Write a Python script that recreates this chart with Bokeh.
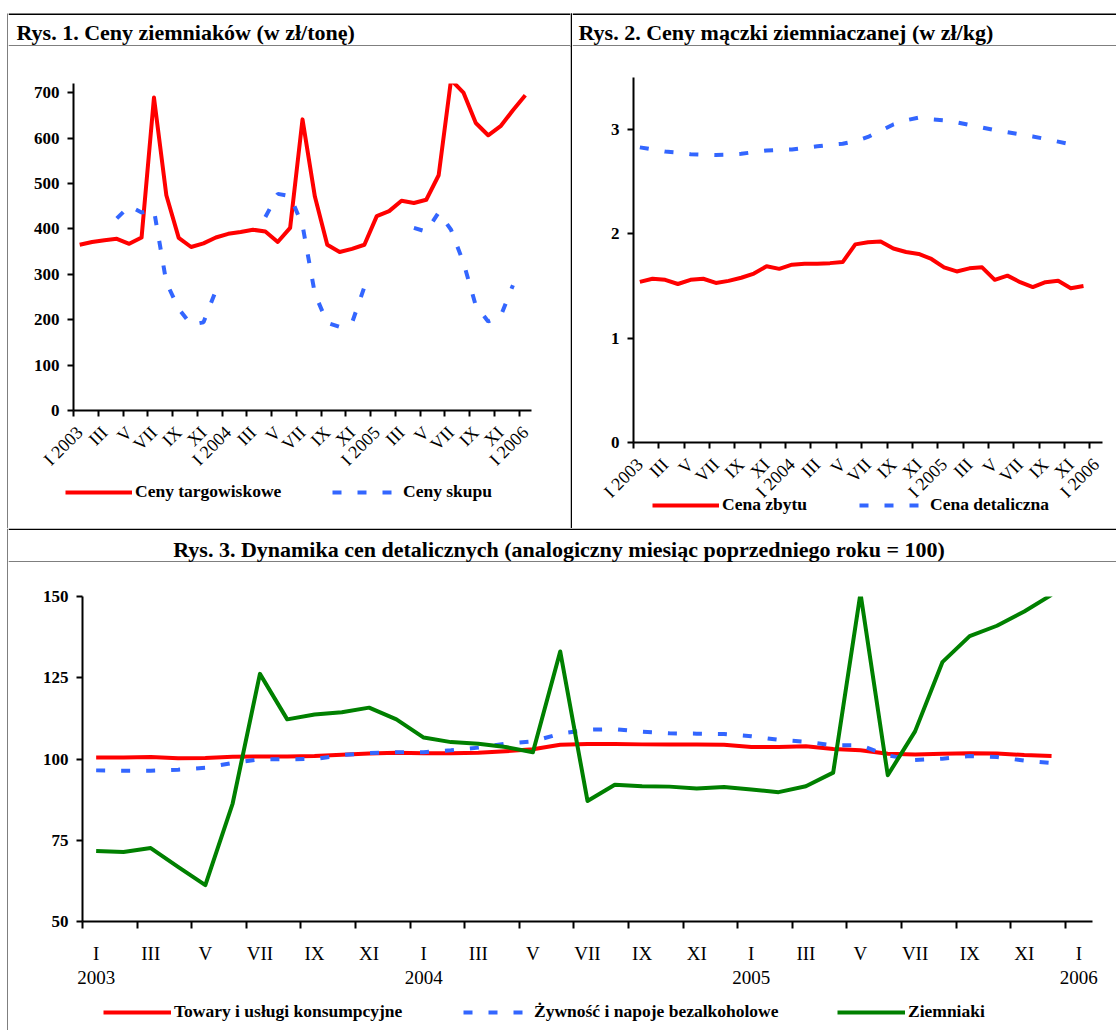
import math
from bokeh.plotting import figure
from bokeh.models import Range1d, FixedTicker, Legend, LegendItem
from bokeh.layouts import column, row
from bokeh.embed import file_html
from bokeh.resources import INLINE
from bokeh.core.properties import value

NaN = float("nan")

# ---------------- data ----------------
month_ticks_rot = ["I 2003", "III", "V", "VII", "IX", "XI",
                   "I 2004", "III", "V", "VII", "IX", "XI",
                   "I 2005", "III", "V", "VII", "IX", "XI", "I 2006"]
month_ticks_3 = ["I\n2003", "III", "V", "VII", "IX", "XI",
                 "I\n2004", "III", "V", "VII", "IX", "XI",
                 "I\n2005", "III", "V", "VII", "IX", "XI", "I\n2006"]
n_categories = 37  # I 2003 ... I 2006

# Rys. 1 (zl/tone)
ceny_targowiskowe = [365, 371, 375, 378, 367, 381, 689, 474, 380, 360, 368, 381,
                     389, 393, 398, 394, 371, 402, 641, 471, 365, 349, 356, 365,
                     428, 439, 462, 457, 464, 518, 728, 700, 633, 606, 626, 661, 694]
ceny_skupu = [NaN, NaN, NaN, 423, 450, 436, 441, 282, 224, 189, 194, 264,
              NaN, NaN, NaN, 426, 477, 472, 408, 257, 193, 184, 193, 272,
              NaN, NaN, NaN, 402, 394, 436, 398, 326, 231, 196, 207, 276, NaN]
y_ticks_1 = [0, 100, 200, 300, 400, 500, 600, 700]

# Rys. 2 (zl/kg)
cena_zbytu = [1.54, 1.57, 1.56, 1.52, 1.56, 1.57, 1.53, 1.55, 1.58, 1.62, 1.69, 1.665,
              1.705, 1.715, 1.715, 1.72, 1.73, 1.90, 1.92, 1.927, 1.86, 1.827, 1.808, 1.76,
              1.68, 1.64, 1.67, 1.68, 1.56, 1.60, 1.537, 1.49, 1.537, 1.55, 1.48, 1.50]
cena_detaliczna = [2.83, 2.81, 2.79, 2.78, 2.765, 2.76, 2.757, 2.76, 2.768, 2.785, 2.80, 2.805,
                   2.81, 2.825, 2.84, 2.855, 2.865, 2.89, 2.93, 2.99, 3.05, 3.09, 3.115, 3.10,
                   3.09, 3.07, 3.045, 3.02, 2.995, 2.975, 2.955, 2.935, 2.91, 2.885, 2.86]
y_ticks_2 = [0, 1, 2, 3]

# Rys. 3 (analogiczny miesiac poprzedniego roku = 100)
towary = [100.5, 100.5, 100.6, 100.2, 100.3, 100.7, 100.8, 100.8, 100.9, 101.3, 101.7, 101.9,
          101.8, 101.8, 101.9, 102.4, 103.0, 104.4, 104.6, 104.6, 104.5, 104.5, 104.5, 104.4,
          103.7, 103.7, 103.9, 103.1, 102.7, 101.6, 101.4, 101.6, 101.8, 101.7, 101.2, 100.9]
zywnosc = [96.5, 96.4, 96.4, 96.7, 97.3, 98.8, 99.9, 99.9, 100.0, 101.2, 101.8, 102.1,
           102.1, 102.7, 103.5, 104.7, 105.4, 107.8, 109.0, 109.2, 108.4, 107.9, 107.8, 107.7,
           107.0, 105.9, 105.3, 104.2, 104.2, 101.1, 99.7, 100.1, 100.9, 100.6, 99.5, 98.8]
ziemniaki = [71.7, 71.4, 72.6, 66.8, 61.2, 86.3, 126.2, 112.2, 113.7, 114.4, 115.8, 112.2,
             106.6, 105.2, 104.7, 103.7, 102.1, 133.1, 87.1, 92.1, 91.6, 91.5, 90.9, 91.4,
             90.6, 89.8, 91.6, 95.8, 151.0, 95.0, 108.5, 129.8, 137.8, 141.0, 145.4, 150.5]
y_ticks_3 = [50, 75, 100, 125, 150]

titles = ["Rys. 1. Ceny ziemniaków (w zł/tonę)",
          "Rys. 2. Ceny mączki ziemniaczanej (w zł/kg)",
          "Rys. 3. Dynamika cen detalicznych (analogiczny miesiąc poprzedniego roku = 100)"]
legend_1 = ["Ceny targowiskowe", "Ceny skupu"]
legend_2 = ["Cena zbytu", "Cena detaliczna"]
legend_3 = ["Towary i usługi konsumpcyjne", "Żywność i napoje bezalkoholowe", "Ziemniaki"]

RED = "#ff0000"
BLUE = "#3366ff"
GREEN = "#008000"
FONT = "Liberation Serif"
DASH = "9 16"
RULE = 1.5  # thickness of the frame rules in px


def blank(w, h, y_down=True):
    f = figure(width=w, height=h, toolbar_location=None, output_backend="svg",
               min_border=0, x_axis_type=None, y_axis_type=None,
               x_range=Range1d(0, w), y_range=Range1d(h, 0) if y_down else Range1d(0, h),
               outline_line_color=None, background_fill_alpha=0, border_fill_alpha=0,
               frame_align=False)
    return f


def deco(w, h, rects=(), text=None, tx=0, ty=0, align="left"):
    """Strip in pixel coordinates (y downward) holding black rules and a title."""
    f = blank(w, h)
    if rects:
        f.quad(left=[r[0] for r in rects], right=[r[1] for r in rects],
               top=[r[2] for r in rects], bottom=[r[3] for r in rects],
               fill_color="black", line_color=None)
    if text is not None:
        f.text(x=[tx], y=[ty], text=[text], text_font=value(FONT),
               text_font_style=value("bold"), text_font_size=value("22px"),
               text_align=value(align), text_baseline=value("middle"),
               text_color="black")
    return f


def chart(w, h, left, right, top, bottom, yr, yticks, labels, rotated):
    p = figure(width=w, height=h, toolbar_location=None, output_backend="svg",
               x_range=Range1d(-0.5, n_categories - 0.5), y_range=Range1d(*yr),
               min_border_left=left, min_border_right=right,
               min_border_top=top, min_border_bottom=bottom,
               outline_line_color=None, border_fill_alpha=0, background_fill_alpha=0,
               frame_align=False)
    p.grid.visible = False
    label_pos = list(range(0, n_categories, 2))
    xa = p.xaxis[0]
    xa.ticker = FixedTicker(ticks=label_pos, minor_ticks=[k - 0.5 for k in label_pos])
    xa.major_label_overrides = {k: lab for k, lab in zip(label_pos, labels)}
    xa.major_tick_out = 0
    xa.major_tick_in = 0
    xa.minor_tick_in = 0
    xa.minor_tick_out = 6 if rotated else 7
    xa.minor_tick_line_color = "black"
    xa.minor_tick_line_width = 2
    xa.axis_line_width = 2
    xa.axis_line_color = "black"
    xa.major_label_text_font = FONT
    xa.major_label_text_color = "black"
    if rotated:
        xa.major_label_orientation = math.pi / 4
        xa.major_label_text_font_size = "18px"
        xa.major_label_standoff = 13
    else:
        xa.major_label_text_font_size = "19px"
        xa.major_label_standoff = 14
        xa.major_label_text_line_height = 1.15
    ya = p.yaxis[0]
    ya.ticker = FixedTicker(ticks=yticks, minor_ticks=[])
    ya.axis_line_width = 2
    ya.axis_line_color = "black"
    ya.major_tick_out = 6
    ya.major_tick_in = 0
    ya.major_tick_line_width = 2
    ya.minor_tick_out = 0
    ya.minor_tick_in = 0
    ya.major_label_text_font = FONT
    ya.major_label_text_font_style = "bold"
    ya.major_label_text_font_size = "17px"
    ya.major_label_text_color = "black"
    ya.major_label_standoff = 8
    return p


def legend_strip(w, h, entries, margin=None):
    """entries: (label, color, dash, glyph_width, x_left, y_bottom) in strip pixels."""
    f = blank(w, h, y_down=False)
    if margin is not None:
        f.margin = margin
    for label, color, dash, gw, vx, vy in entries:
        # legend sample only: a single NaN point draws nothing in the strip itself
        r = f.line(x=[NaN], y=[NaN], line_color=color, line_width=4, line_dash=dash)
        lg = Legend(items=[LegendItem(label=label, renderers=[r])],
                    location=(vx, vy), orientation="horizontal",
                    glyph_width=gw, glyph_height=20, label_height=20,
                    padding=0, margin=0, spacing=0, label_standoff=3,
                    border_line_color=None, background_fill_alpha=0,
                    label_text_font=FONT, label_text_font_style="bold",
                    label_text_font_size="17.5px", label_text_color="black")
        f.add_layout(lg)
    return f


# ---------------- Rys. 1 ----------------
# frame: 37 px below the figure top, 327 px tall (0..720)
p1 = chart(562, 446, 65, 39, 37, 82, (0, 720), y_ticks_1, month_ticks_rot, True)
p1.line(list(range(len(ceny_targowiskowe))), ceny_targowiskowe, line_color=RED,
        line_width=4, line_join="round")
p1.line(list(range(len(ceny_skupu))), ceny_skupu, line_color=BLUE, line_width=4,
        line_dash=DASH)
lg1 = legend_strip(562, 66, [(legend_1[0], RED, "solid", 67, 57, 26),
                             (legend_1[1], BLUE, DASH, 68, 324, 26)],
                   margin=(-30, 0, 0, 0))

# ---------------- Rys. 2 ----------------
# frame: 31 px below the figure top, 365 px tall (0..3.5)
p2 = chart(544, 476, 61, 14, 31, 80, (0, 3.5), y_ticks_2, month_ticks_rot, True)
p2.line(list(range(len(cena_zbytu))), cena_zbytu, line_color=RED, line_width=4,
        line_join="round")
p2.line(list(range(len(cena_detaliczna))), cena_detaliczna, line_color=BLUE,
        line_width=4, line_dash=DASH)
lg2 = legend_strip(544, 40, [(legend_2[0], RED, "solid", 67, 80, 13),
                             (legend_2[1], BLUE, DASH, 68, 287, 13)],
                   margin=(-34, 0, 0, 0))

# ---------------- Rys. 3 ----------------
p3 = chart(1108, 433, 74, 24, 34, 74, (50, 150), y_ticks_3, month_ticks_3, False)
p3.line(list(range(len(towary))), towary, line_color=RED, line_width=4, line_join="round")
p3.line(list(range(len(zywnosc))), zywnosc, line_color=BLUE, line_width=4, line_dash=DASH)
p3.line(list(range(len(ziemniaki))), ziemniaki, line_color=GREEN, line_width=4,
        line_join="round")
lg3 = legend_strip(1108, 35, [(legend_3[0], RED, "solid", 68, 95, 8),
                              (legend_3[1], BLUE, DASH, 68, 455, 8),
                              (legend_3[2], GREEN, "solid", 68, 829, 8)])

# ---------------- frame, titles, layout ----------------
R = RULE
t1 = deco(562, 46, [(0, 562, 13, 13 + R), (0, 562, 45, 45 + R)], titles[0], 8, 32, "left")
t2 = deco(544, 46, [(0, 544, 13, 13 + R), (0, 544, 45, 45 + R)], titles[1], 6, 32, "left")
t3 = deco(1108, 34, [(0, 1108, 0, R), (0, 1108, 33, 33 + R)], titles[2], 550.5, 21, "center")

left_top = deco(8, 528, [(7, 7 + R, 13, 528)])
divider = deco(2, 528, [(0, R, 13, 528), (0, 2, 13, 13 + R), (0, 2, 45, 45 + R)])
left_bottom = deco(8, 502, [(7, 7 + R, 0, 502)])

top_row = row(left_top, column(t1, p1, lg1), divider, column(t2, p2, lg2))
bottom_row = row(left_bottom, column(t3, p3, lg3))
layout = column(top_row, bottom_row)

open("out.html", "w").write(file_html(layout, INLINE))
